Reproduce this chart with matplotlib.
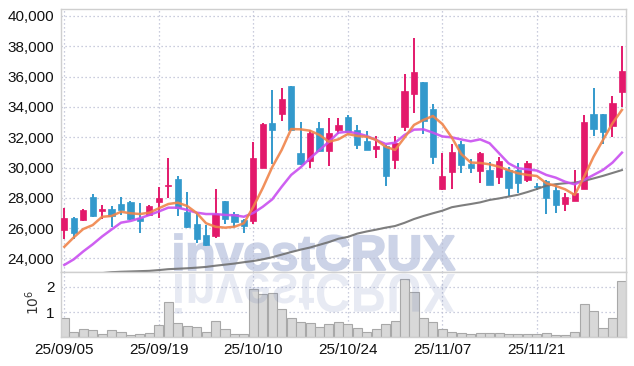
import matplotlib
matplotlib.use('Agg')
import matplotlib.pyplot as plt
import numpy as np
from matplotlib.textpath import TextPath
from matplotlib.patches import PathPatch
from matplotlib.font_manager import FontProperties
from matplotlib.transforms import Affine2D
from matplotlib.ticker import FuncFormatter

# ---------------- data ----------------
tick_pos = [0, 10, 20, 30, 40, 50]
tick_labels = ['25/09/05', '25/09/19', '25/10/10', '25/10/24', '25/11/07', '25/11/21']

opens = [25850, 26650, 26550, 28050, 27150, 27250, 27600, 27700, 26650, 26850,
         27750, 28800, 29250, 27050, 26250, 25550, 25450, 27800, 26950, 26550,
         26500, 30000, 32950, 33500, 35350, 30950, 30400, 32600, 31100, 32500,
         33350, 32500, 31750, 31250, 31400, 30500, 32700, 34850, 35650, 33850,
         28550, 29700, 31550, 30250, 29800, 29850, 29400, 29850, 29850, 29200,
         28800, 29100, 28500, 27600, 27800, 28600, 33550, 33550, 32750, 35000]
closes = [26650, 25700, 27200, 26800, 27250, 26800, 27200, 26600, 26500, 27450,
          28000, 28850, 27350, 26050, 25300, 24900, 26950, 26600, 26400, 26150,
          30600, 32900, 32450, 34500, 32500, 30250, 32300, 31100, 32250, 32800,
          32350, 31500, 31150, 31400, 29450, 31600, 35050, 36300, 33100, 30700,
          29450, 31000, 30150, 30000, 30950, 28850, 30450, 28650, 29000, 30300,
          28700, 28000, 27500, 28050, 28300, 33000, 32550, 32350, 34250, 36350]
highs = [27350, 26750, 27250, 28250, 27500, 27450, 28050, 27800, 27650, 27500,
         28700, 30600, 29450, 28400, 27000, 26200, 28550, 27800, 27050, 26600,
         31700, 32950, 35100, 35250, 35400, 33000, 32500, 33000, 33250, 33250,
         33450, 32800, 32400, 32100, 31500, 32050, 36200, 38550, 35650, 34200,
         30950, 31550, 31750, 30550, 31000, 30350, 30700, 30050, 30300, 30450,
         29000, 29200, 28850, 28350, 29850, 33450, 35250, 33550, 34750, 38000]
lows = [25250, 25250, 26500, 26750, 26600, 26050, 26850, 26550, 25700, 26800,
        26650, 28000, 26800, 26000, 25050, 24850, 25350, 26250, 26100, 25650,
        26300, 29950, 30250, 33100, 32450, 30150, 30000, 31050, 30100, 32200,
        32300, 31200, 31150, 30650, 28800, 29900, 32400, 33600, 32200, 30200,
        28500, 28600, 29650, 29650, 29000, 28850, 28900, 28100, 28300, 29050,
        28500, 26900, 27000, 27100, 27800, 28550, 32100, 31550, 32000, 34000]

ma_short = [24770, 25390, 25940, 26200, 26750, 26800, 27080, 26980, 26930, 27020,
            27310, 27590, 27680, 27460, 27000, 26320, 26090, 26030, 26090, 26320,
            27410, 28650, 30030, 31160, 32540, 32520, 32430, 32150, 31700, 31860,
            32210, 32080, 32030, 31820, 31370, 31160, 31980, 32810, 33140, 33400,
            32870, 31980, 30890, 30330, 30300, 30210, 30050, 29820, 29620, 29510,
            29440, 28960, 28780, 28560, 28190, 29390, 30710, 31820, 32920, 33800]
ma_mid = [23570, 23940, 24460, 24930, 25450, 25910, 26360, 26470, 26650, 26870,
          27100, 27350, 27350, 27200, 27020, 26930, 26930, 26870, 26850, 26750,
          27000, 27410, 27900, 28730, 29510, 30010, 30610, 31160, 31700, 32300,
          32360, 32260, 32080, 31820, 31550, 31640, 32150, 32500, 32520, 32300,
          32050, 31990, 31850, 31730, 31860, 31600, 30940, 30280, 29950, 29880,
          29800, 29510, 29330, 29060, 28890, 29180, 29510, 29840, 30320, 30980]
ma_long = [22900, 22930, 22960, 22990, 23030, 23090, 23120, 23140, 23160, 23180,
           23230, 23290, 23320, 23350, 23390, 23440, 23520, 23590, 23660, 23750,
           23830, 23940, 24080, 24250, 24420, 24580, 24720, 24900, 25080, 25300,
           25420, 25640, 25780, 25900, 26030, 26140, 26350, 26600, 26800, 26980,
           27150, 27380, 27490, 27590, 27700, 27860, 27960, 28080, 28200, 28380,
           28580, 28800, 28900, 28960, 29000, 29120, 29280, 29450, 29640, 29830]

volumes = [0.75, 0.22, 0.32, 0.28, 0.13, 0.28, 0.20, 0.08, 0.12, 0.16,
           0.48, 1.39, 0.56, 0.44, 0.40, 0.20, 0.66, 0.32, 0.12, 0.12,
           1.90, 1.72, 1.75, 1.11, 0.75, 0.60, 0.56, 0.40, 0.52, 0.62,
           0.52, 0.36, 0.22, 0.32, 0.52, 0.66, 2.33, 1.79, 0.75, 0.62,
           0.34, 0.22, 0.18, 0.12, 0.18, 0.16, 0.16, 0.12, 0.12, 0.12,
           0.12, 0.16, 0.08, 0.08, 0.20, 1.31, 1.03, 0.36, 0.75, 2.23]  # millions

price_ticks = [24000, 26000, 28000, 30000, 32000, 34000, 36000, 38000, 40000]
vol_ticks = [1, 2]

# ---------------- style ----------------
RED = '#e3196b'
BLUE = '#3399cc'
GRID = '#b9bdd2'
SPINE = '#cfcfcf'
TXT = '#111111'
FONT = ['Liberation Sans Narrow', 'Liberation Sans', 'DejaVu Sans']
plt.rcParams['font.family'] = FONT

W, H = 634, 366
fig = plt.figure(figsize=(W / 100, H / 100), dpi=100)


def px_axes(x0, y0, x1, y1):
    return fig.add_axes([x0 / W, 1 - y1 / H, (x1 - x0) / W, (y1 - y0) / H])


ax = px_axes(61.3, 9, 625.7, 272.3)
axv = px_axes(61.3, 272.3, 625.7, 337.3)

x = np.arange(len(opens))
o = np.array(opens, float)
c = np.array(closes, float)
cols = [RED if cc >= oo else BLUE for oo, cc in zip(o, c)]

# candles
ax.vlines(x, lows, highs, colors=cols, linewidth=1.4, zorder=3)
ax.bar(x, np.abs(c - o), bottom=np.minimum(o, c), width=0.66, color=cols,
       edgecolor=cols, linewidth=0.5, zorder=3)

# moving averages
ax.plot(x, ma_long, color='#707070', lw=1.5, alpha=0.9, zorder=4)
ax.plot(x, ma_mid, color='#c94ff0', lw=1.8, alpha=0.9, zorder=4)
ax.plot(x, ma_short, color='#f0844a', lw=1.8, alpha=0.9, zorder=4)

# volume
axv.bar(x, np.array(volumes) * 1e6, width=0.96, color='#d8d8d8',
        edgecolor='#a8a8a8', linewidth=0.8, zorder=2)

xlim = (-0.32, 59.4)
for a in (ax, axv):
    a.set_xlim(*xlim)
    a.set_xticks(tick_pos)
    a.grid(True, linestyle=(0, (1, 2.2)), color=GRID, linewidth=0.9)
    a.tick_params(length=0, colors=TXT, labelsize=11, pad=5)
    for s in a.spines.values():
        s.set_color(SPINE)
        s.set_linewidth(1)
    a.set_facecolor('white')

ax.set_ylim(23084, 40462)
ax.set_yticks(price_ticks)
ax.yaxis.set_major_formatter(FuncFormatter(lambda v, p: f'{int(v):,}'))
ax.tick_params(labelbottom=False)

axv.set_ylim(0, 2.58e6)
axv.set_yticks([v * 1e6 for v in vol_ticks])
axv.set_yticklabels([str(v) for v in vol_ticks])
axv.set_xticklabels(tick_labels)
axv.tick_params(axis='x', pad=4)

fig.text(33 / W, 1 - 302 / H, r'$10^{6}$', rotation=90, ha='center',
         va='center', fontsize=10, color='#333333', family='DejaVu Sans')

# watermark
fp = FontProperties(family='Liberation Sans', weight='bold')
tp = TextPath((0, 0), 'investCRUX', size=50, prop=fp)
ext = tp.get_extents()
tx0, tx1, ty_top, ty_bot = 175, 455, 234, 270.5
sx = (tx1 - tx0) / ext.width
sy = (ty_bot - ty_top) / ext.height
to_disp = Affine2D().scale(1 / 100) + fig.dpi_scale_trans
tr_main = Affine2D().translate(-ext.x0, -ext.y0).scale(sx, sy).translate(tx0, H - ty_bot)
tr_refl = Affine2D().translate(-ext.x0, -ext.y0).scale(sx, -sy * 1.1).translate(tx0, H - 273.5)
ax.add_patch(PathPatch(tp, transform=tr_main + to_disp, facecolor='#ccd3e7',
                       edgecolor='#ccd3e7', linewidth=1.3, zorder=1))
axv.add_patch(PathPatch(tp, transform=tr_refl + to_disp, facecolor='#556cac',
                        edgecolor='none', alpha=0.14, zorder=2.5))

fig.savefig('out.png', dpi=100)
